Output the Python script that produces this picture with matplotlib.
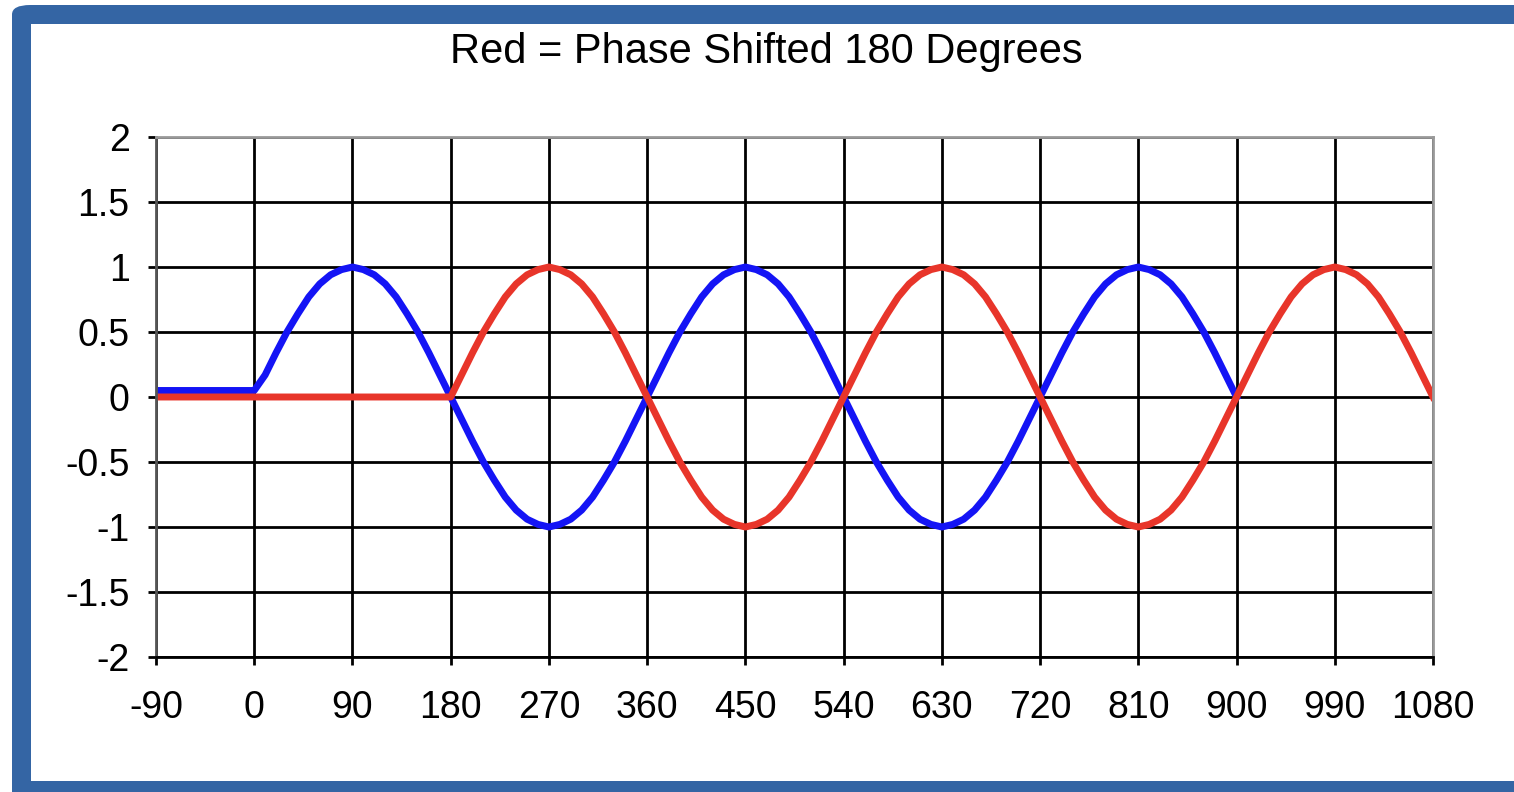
import matplotlib
matplotlib.use('Agg')
import matplotlib.pyplot as plt
from matplotlib.patches import FancyBboxPatch, Rectangle

# data (degrees, amplitude)
blue_deg = [-90] + list(range(0, 910, 10))
blue_val = [0.05, 0.05,
            0.17, 0.34, 0.5, 0.64, 0.77, 0.87, 0.94, 0.98, 1.0,
            0.98, 0.94, 0.87, 0.77, 0.64, 0.5, 0.34, 0.17, 0.0,
            -0.17, -0.34, -0.5, -0.64, -0.77, -0.87, -0.94, -0.98, -1.0,
            -0.98, -0.94, -0.87, -0.77, -0.64, -0.5, -0.34, -0.17, 0.0,
            0.17, 0.34, 0.5, 0.64, 0.77, 0.87, 0.94, 0.98, 1.0,
            0.98, 0.94, 0.87, 0.77, 0.64, 0.5, 0.34, 0.17, 0.0,
            -0.17, -0.34, -0.5, -0.64, -0.77, -0.87, -0.94, -0.98, -1.0,
            -0.98, -0.94, -0.87, -0.77, -0.64, -0.5, -0.34, -0.17, 0.0,
            0.17, 0.34, 0.5, 0.64, 0.77, 0.87, 0.94, 0.98, 1.0,
            0.98, 0.94, 0.87, 0.77, 0.64, 0.5, 0.34, 0.17, 0.0]

red_deg = [-90] + list(range(180, 1090, 10))
red_val = [0.0, 0.0,
           0.17, 0.34, 0.5, 0.64, 0.77, 0.87, 0.94, 0.98, 1.0,
           0.98, 0.94, 0.87, 0.77, 0.64, 0.5, 0.34, 0.17, 0.0,
           -0.17, -0.34, -0.5, -0.64, -0.77, -0.87, -0.94, -0.98, -1.0,
           -0.98, -0.94, -0.87, -0.77, -0.64, -0.5, -0.34, -0.17, 0.0,
           0.17, 0.34, 0.5, 0.64, 0.77, 0.87, 0.94, 0.98, 1.0,
           0.98, 0.94, 0.87, 0.77, 0.64, 0.5, 0.34, 0.17, 0.0,
           -0.17, -0.34, -0.5, -0.64, -0.77, -0.87, -0.94, -0.98, -1.0,
           -0.98, -0.94, -0.87, -0.77, -0.64, -0.5, -0.34, -0.17, 0.0,
           0.17, 0.34, 0.5, 0.64, 0.77, 0.87, 0.94, 0.98, 1.0,
           0.98, 0.94, 0.87, 0.77, 0.64, 0.5, 0.34, 0.17, 0.0]

x_ticks = list(range(-90, 1081, 90))
x_labels = [str(v) for v in x_ticks]
y_ticks = [-2, -1.5, -1, -0.5, 0, 0.5, 1, 1.5, 2]
y_labels = ['-2', '-1.5', '-1', '-0.5', '0', '0.5', '1', '1.5', '2']
title = 'Red = Phase Shifted 180 Degrees'

plt.rcParams['font.family'] = ['Liberation Sans', 'DejaVu Sans']

W, H = 1514, 792
fig = plt.figure(figsize=(W / 100, H / 100), dpi=100)
fig.patch.set_facecolor('white')

# blue frame round the chart
frame = FancyBboxPatch((12 / W, -0.1), 1.2, 1.1 - 5 / H,
                       boxstyle='round,pad=0,rounding_size=0.012',
                       transform=fig.transFigure, facecolor='#3465a4',
                       edgecolor='none', zorder=0)
inner = Rectangle((31 / W, 11 / H), 1.2, 1 - 35 / H,
                  transform=fig.transFigure, facecolor='white',
                  edgecolor='none', zorder=0)
fig.add_artist(frame)
fig.add_artist(inner)

ax = fig.add_axes([156 / W, 1 - 657 / H, (1433 - 156) / W, (657 - 137) / H])
ax.set_zorder(1)
ax.set_facecolor('white')

ax.plot(blue_deg, blue_val, color='#1414f5', lw=5, solid_joinstyle='round')
ax.plot(red_deg, red_val, color='#e8352a', lw=5, solid_joinstyle='round')

ax.set_xlim(-90, 1080)
ax.set_ylim(-2, 2)
ax.set_xticks(x_ticks)
ax.set_xticklabels(x_labels)
ax.set_yticks(y_ticks)
ax.set_yticklabels(y_labels)

ax.grid(True, color='black', lw=2)
ax.set_axisbelow(True)
ax.tick_params(direction='out', length=6, width=2, color='black',
               labelsize=27)
ax.tick_params(axis='x', pad=18)
ax.tick_params(axis='y', pad=13)

for side in ['top', 'right']:
    ax.spines[side].set_color('#999999')
    ax.spines[side].set_linewidth(2)
ax.spines['left'].set_color('#555555')
ax.spines['left'].set_linewidth(2)
ax.spines['bottom'].set_color('black')
ax.spines['bottom'].set_linewidth(2)

fig.text(766 / W, 1 - 52 / H, title, ha='center', va='center', fontsize=30)

fig.savefig('out.png', dpi=100)
